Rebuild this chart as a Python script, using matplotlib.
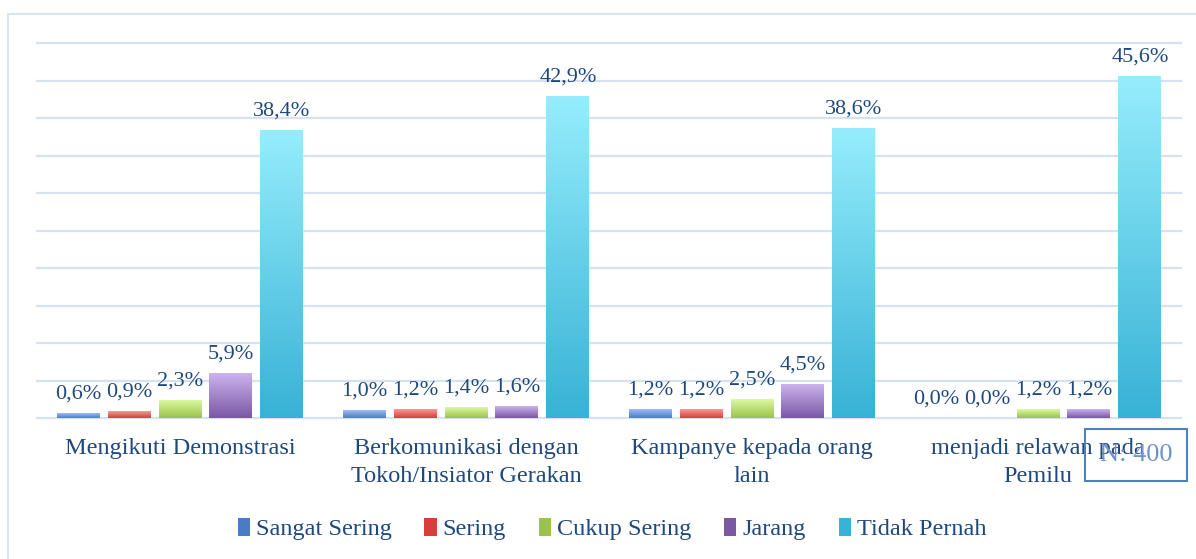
import numpy as np
import matplotlib.pyplot as plt
from matplotlib.colors import LinearSegmentedColormap
from matplotlib.patches import Rectangle, Patch

# data
kategori = ["Mengikuti Demonstrasi", "Berkomunikasi dengan\nTokoh/Insiator Gerakan",
            "Kampanye kepada orang\nlain", "menjadi relawan pada\nPemilu"]
seri = ["Sangat Sering", "Sering", "Cukup Sering", "Jarang", "Tidak Pernah"]
sangat_sering = [0.6, 1.0, 1.2, 0.0]
sering = [0.9, 1.2, 1.2, 0.0]
cukup_sering = [2.3, 1.4, 2.5, 1.2]
jarang = [5.9, 1.6, 4.5, 1.2]
tidak_pernah = [38.4, 42.9, 38.6, 45.6]
nilai = [sangat_sering, sering, cukup_sering, jarang, tidak_pernah]

# warna gradien (atas, bawah)
warna = [("#9DBDF5", "#4A7CC6"), ("#F79C96", "#D63F3A"), ("#DCF9A0", "#9BC34B"),
         ("#CBB3EE", "#7B58A4"), ("#95EDFC", "#38B2D6")]
teks = "#1F497D"
grid_c = "#D6E2F2"
font = "Liberation Serif"

fig = plt.figure(figsize=(11.96, 5.59), dpi=100)
ax = fig.add_axes([37/1196, 1-418/559, 1144/1196, 375/559])

# bingkai luar
fig.patches.append(Rectangle((8/1196, -0.1), 1.2, 1-14/559+0.1, transform=fig.transFigure,
                             fill=False, edgecolor="#D5E3F3", linewidth=1.5))

x = np.arange(len(kategori))
lebar = 0.15
jarak = 0.178
for i, (s, v) in enumerate(zip(seri, nilai)):
    pos = x + (i - 2) * jarak
    bars = ax.bar(pos, v, lebar, color="none", zorder=3)
    cmap = LinearSegmentedColormap.from_list("g%d" % i, [warna[i][1], warna[i][0]])
    for b, val in zip(bars, v):
        h = b.get_height()
        if h <= 0:
            continue
        grad = np.linspace(0, 1, 100).reshape(-1, 1)
        ax.imshow(grad, cmap=cmap, origin="lower", aspect="auto", zorder=3,
                  extent=[b.get_x(), b.get_x() + b.get_width(), 0, h])
    for p, val in zip(pos, v):
        ax.annotate(f"{val:.1f}%".replace(".", ","), (p, val), xytext=(0, 7),
                    textcoords="offset points", ha="center", va="bottom",
                    fontsize=16, color=teks, family=font)

ax.set_xlim(-0.5, 3.5)
ax.set_ylim(0, 50)
ax.set_yticks(np.arange(0, 51, 5))
ax.yaxis.grid(True, color=grid_c, linewidth=1.6, zorder=0)
for gl in ax.get_ygridlines():
    gl.set_clip_on(False)
ax.set_axisbelow(True)
ax.tick_params(left=False, labelleft=False, bottom=False)
for sp in ax.spines.values():
    sp.set_visible(False)
ax.set_xticks(x)
ax.set_xticklabels(kategori, fontsize=17.5, color=teks, family=font, linespacing=1.45)
ax.tick_params(axis="x", pad=11)

handles = [Patch(facecolor=w[1], edgecolor="none") for w in warna]
fig.legend(handles, seri, loc="center", bbox_to_anchor=(612/1196, 1-529/559), ncol=5,
           frameon=False, prop={"family": font, "size": 17.5}, labelcolor=teks,
           handlelength=0.5, handleheight=0.8, handletextpad=0.25, columnspacing=1.35)

# kotak N
fig.text(1136/1196, 1-455/559, "N: 400", ha="center", va="center", fontsize=19,
         color="#6E93C8", family=font,
         bbox=dict(boxstyle="square,pad=0.55", facecolor="none", edgecolor="#4F81BD", linewidth=1.5))

fig.savefig("out.png", dpi=100)
